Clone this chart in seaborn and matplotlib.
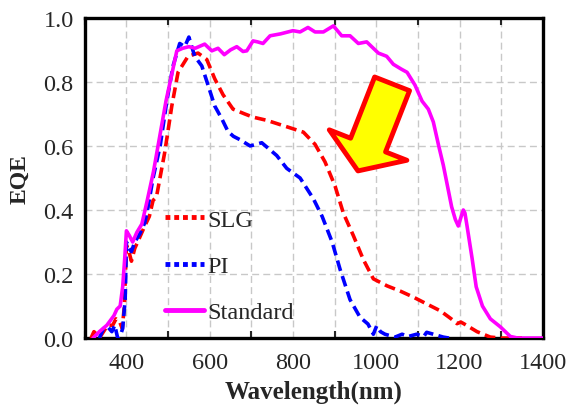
import pandas as pd
import seaborn as sns
import matplotlib.pyplot as plt
from matplotlib.lines import Line2D

std_wl = [320, 335, 353, 370, 377, 385, 391, 396, 400, 407, 415, 425, 437, 450, 465,
          480, 495, 510, 521, 535, 550, 565, 588, 605, 620, 635, 650, 665, 680, 689,
          704, 715, 728, 745, 770, 800, 817, 836, 853, 873, 897, 917, 937, 957, 977,
          1005, 1025, 1041, 1060, 1074, 1093, 1110, 1125, 1137, 1150, 1161, 1181, 1190,
          1197, 1204, 1209, 1213, 1218, 1230, 1240, 1255, 1274, 1298, 1310, 1322, 1340, 1400]
std_eqe = [0.0, 0.02, 0.04, 0.07, 0.09, 0.10, 0.16, 0.25, 0.335, 0.32, 0.30, 0.33, 0.356, 0.43, 0.52,
           0.63, 0.74, 0.83, 0.897, 0.905, 0.91, 0.905, 0.918, 0.897, 0.905, 0.885, 0.90, 0.91, 0.895, 0.897,
           0.928, 0.925, 0.92, 0.944, 0.95, 0.96, 0.956, 0.97, 0.956, 0.956, 0.975, 0.944, 0.944, 0.92, 0.925,
           0.89, 0.88, 0.855, 0.84, 0.83, 0.79, 0.74, 0.715, 0.675, 0.60, 0.54, 0.41, 0.37,
           0.35, 0.38, 0.40, 0.39, 0.35, 0.25, 0.16, 0.10, 0.06, 0.035, 0.02, 0.005, 0.0, 0.0]

slg_wl = [315, 322, 330, 335, 345, 355, 367, 375, 384, 390, 395, 400, 406, 412, 420,
          427, 444, 455, 464, 472, 492, 509, 524, 548, 572, 593, 612, 632, 656, 684,
          704, 737, 785, 825, 853, 877, 901, 921, 945, 969, 993, 1026, 1057, 1089, 1122,
          1154, 1180, 1194, 1203, 1210, 1242, 1274, 1300, 1350]
slg_eqe = [0.0, 0.02, 0.01, 0.0, 0.02, 0.04, 0.04, 0.06, 0.05, 0.03, 0.10, 0.29, 0.27, 0.24, 0.28,
           0.30, 0.35, 0.38, 0.43, 0.44, 0.58, 0.725, 0.83, 0.88, 0.89, 0.87, 0.81, 0.76, 0.715, 0.70,
           0.69, 0.68, 0.66, 0.643, 0.605, 0.55, 0.475, 0.39, 0.32, 0.245, 0.185, 0.163, 0.147, 0.128, 0.106,
           0.085, 0.06, 0.045, 0.05, 0.045, 0.02, 0.003, 0.0, 0.0]

pi_wl = [335, 345, 355, 365, 372, 379, 386, 391, 397, 400, 406, 412, 420, 432, 444,
         452, 464, 481, 497, 512, 528, 540, 550, 564, 581, 596, 612, 629, 644, 657,
         672, 697, 725, 761, 785, 817, 849, 870, 894, 913, 937, 961, 980, 993, 1001,
         1010, 1021, 1045, 1062, 1077, 1097, 1114, 1121, 1137, 1161, 1175]
pi_eqe = [0.0, 0.03, 0.035, 0.02, 0.04, 0.0, 0.01, 0.03, 0.12, 0.30, 0.28, 0.27, 0.30, 0.325, 0.36,
          0.41, 0.50, 0.60, 0.74, 0.85, 0.92, 0.91, 0.94, 0.88, 0.85, 0.79, 0.725, 0.685, 0.645, 0.63,
          0.62, 0.60, 0.61, 0.57, 0.53, 0.50, 0.435, 0.38, 0.30, 0.215, 0.12, 0.065, 0.044, 0.012, 0.038,
          0.02, 0.012, 0.003, 0.012, 0.005, 0.012, 0.005, 0.018, 0.012, 0.003, 0.0]

df = pd.concat([
    pd.DataFrame({"wl": slg_wl, "eqe": slg_eqe, "sample": "SLG"}),
    pd.DataFrame({"wl": pi_wl, "eqe": pi_eqe, "sample": "PI"}),
    pd.DataFrame({"wl": std_wl, "eqe": std_eqe, "sample": "Standard"}),
])

colors = {"SLG": "#ff0000", "PI": "#0000ff", "Standard": "#ff00ff"}

sns.set_style("white")
plt.rcParams["font.family"] = ["Liberation Serif", "DejaVu Serif"]

fig, ax = plt.subplots(figsize=(5.69, 4.10), dpi=100)
fig.subplots_adjust(left=0.149, right=0.954, top=0.954, bottom=0.173)

sns.lineplot(data=df, x="wl", y="eqe", hue="sample", style="sample", palette=colors,
             dashes={"SLG": (3.0, 1.5), "PI": (3.0, 1.5), "Standard": ""},
             lw=2.6, sort=False, estimator=None, legend=False, ax=ax, zorder=3)

ax.set_xlim(300, 1400)
ax.set_ylim(0, 1.0)
ax.set_xticks(range(400, 1401, 200))
ax.set_xticks(range(300, 1400, 200), minor=True)
ax.set_yticks([0, 0.2, 0.4, 0.6, 0.8, 1.0])
ax.set_yticklabels([f"{v:.1f}" for v in [0, 0.2, 0.4, 0.6, 0.8, 1.0]])
ax.tick_params(axis="both", which="major", length=0, labelsize=17.5)
ax.tick_params(axis="x", which="major", pad=10)
ax.tick_params(axis="y", which="major", pad=8)
ax.tick_params(axis="x", which="minor", direction="in", length=5, width=1.5, top=True, bottom=True)
ax.grid(True, which="both", axis="x", color="#c8c8c8", ls=(0, (5, 3)), lw=1)
ax.grid(True, which="major", axis="y", color="#c8c8c8", ls=(0, (5, 3)), lw=1)
for s in ax.spines.values():
    s.set_color("black")
    s.set_linewidth(2.4)

ax.set_xlabel("Wavelength(nm)", fontsize=18, fontweight="bold", labelpad=5)
ax.set_ylabel("EQE", fontsize=17, fontweight="bold", labelpad=9)

# yellow arrow pointing down-left
ax.annotate("", xy=(956, 0.522), xytext=(1038, 0.794),
            arrowprops=dict(arrowstyle="simple,head_length=1.0,head_width=3.0,tail_width=1.35",
                            fc="yellow", ec="red", lw=3.5, mutation_scale=20,
                            shrinkA=0, shrinkB=0), zorder=4)

handles = [
    Line2D([], [], color=colors["SLG"], lw=3.5, ls=(0, (1, 0.8))),
    Line2D([], [], color=colors["PI"], lw=3.5, ls=(0, (1, 0.8))),
    Line2D([], [], color=colors["Standard"], lw=3.5),
]
ax.legend(handles, ["SLG", "PI", "Standard"], loc="center left", bbox_to_anchor=(0.175, 0.225),
          frameon=False, fontsize=17.5, handlelength=1.6, handletextpad=0.15,
          labelspacing=1.0, borderpad=0, borderaxespad=0)

fig.savefig("out.png", dpi=100)
